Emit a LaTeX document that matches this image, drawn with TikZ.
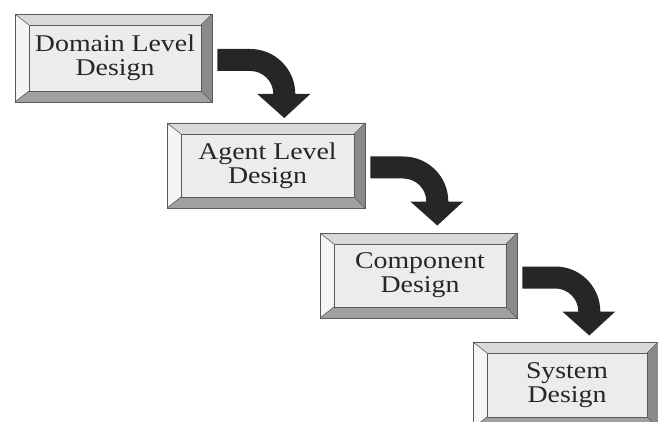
\documentclass[tikz,border=0pt]{standalone}
\usepackage{fontspec}
\setmainfont[FakeStretch=1.16]{Liberation Serif}
\definecolor{facegray}{HTML}{ECECEC}
\definecolor{topgray}{HTML}{D9D9D9}
\definecolor{leftgray}{HTML}{F5F5F5}
\definecolor{rightgray}{HTML}{8A8A8A}
\definecolor{botgray}{HTML}{A0A0A0}
\definecolor{edgegray}{HTML}{5A5A5A}
\definecolor{inkgray}{HTML}{262626}
\definecolor{arrowblack}{HTML}{262626}

% Bevelled box: name, left, top, right, bottom, label
\newcommand\bevelbox[6]{%
  \fill[topgray]   (#2,#3) -- (#4,#3) -- ({#4-11},{#3+11}) -- ({#2+14},{#3+11}) -- cycle;
  \fill[leftgray]  (#2,#3) -- ({#2+14},{#3+11}) -- ({#2+14},{#5-11}) -- (#2,#5) -- cycle;
  \fill[rightgray] (#4,#3) -- (#4,#5) -- ({#4-11},{#5-11}) -- ({#4-11},{#3+11}) -- cycle;
  \fill[botgray]   (#2,#5) -- (#4,#5) -- ({#4-11},{#5-11}) -- ({#2+14},{#5-11}) -- cycle;
  \node[outerbox, minimum width={(#4-#2)*1pt}, minimum height={(#5-#3)*1pt}]
    (#1) at ({(#2+#4)/2},{(#3+#5)/2}) {};
  \node[facebox, minimum width={(#4-#2-25)*1pt}, minimum height={(#5-#3-22)*1pt}]
    (#1-face) at ({(#2+14+#4-11)/2},{#3+11+(#5-#3-22)/2}) {#6};
  \draw[edgeline] (#2,#3) -- ({#2+14},{#3+11})
                  (#4,#3) -- ({#4-11},{#3+11})
                  (#2,#5) -- ({#2+14},{#5-11})
                  (#4,#5) -- ({#4-11},{#5-11});
}

\begin{document}
\begin{tikzpicture}[x=1pt,y=-1pt,
  edgeline/.style={draw=edgegray, line width=0.6pt},
  outerbox/.style={draw=edgegray, line width=0.6pt, inner sep=0pt, rectangle},
  facebox/.style={fill=facegray, draw=edgegray, line width=0.7pt, inner sep=0pt,
    rectangle, align=center, text=inkgray, font=\fontsize{24}{24}\selectfont},
  pics/bendarrow/.style={code={%
    \fill[arrowblack] (5,-9) -- (38,-9) arc[start angle=270, end angle=360, radius=45]
      -- (98,36) -- (72,60) -- (45,36) -- (61,36)
      arc[start angle=360, end angle=270, radius=23] -- (5,13) -- cycle;
  }}]
\useasboundingbox (0,0) rectangle (658,422);
\clip (0,0) rectangle (658,422);

\bevelbox{domain}{15}{14}{212}{102}{Domain Level\\Design}
\bevelbox{agent}{167}{123}{365}{208}{Agent Level\\Design}
\bevelbox{component}{320}{233}{517}{318}{Component\\Design}
\bevelbox{system}{473}{342}{658}{428}{System\\Design}

% Bent block arrows leading from each stage down to the next
\pic at (domain.east) {bendarrow};
\pic at (agent.east) {bendarrow};
\pic at (component.east) {bendarrow};
\end{tikzpicture}
\end{document}
